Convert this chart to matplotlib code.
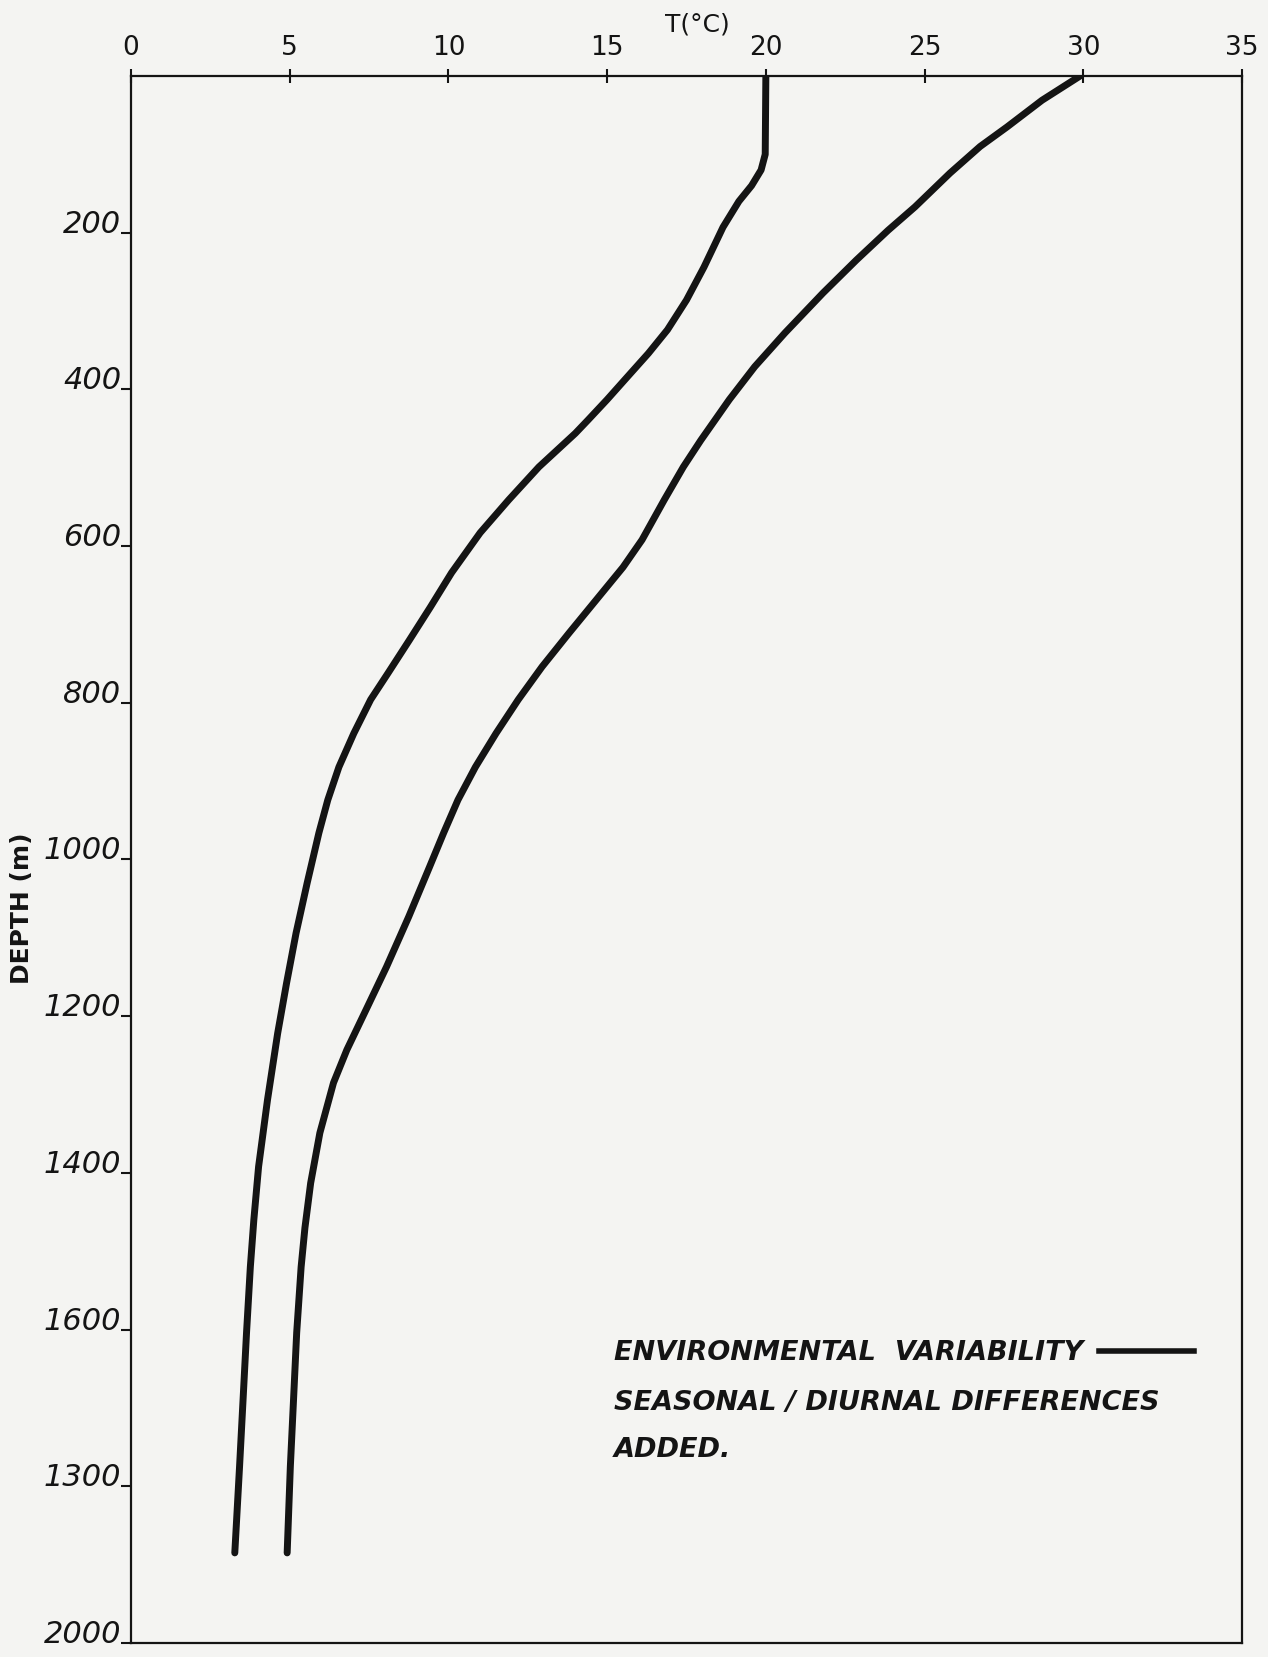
import matplotlib.pyplot as plt
from matplotlib.lines import Line2D

# temperature profiles, depth in metres, temperature in deg C
depth_cool = [0, 100, 120, 140, 160, 193, 244, 286, 324, 354, 388, 413, 439, 456, 499,
              541, 583, 634, 678, 720, 762, 796, 839, 882, 924, 966, 1030,
              1094, 1158, 1222, 1307, 1392, 1460, 1520, 1604, 1690, 1775, 1885]
temp_cool = [20.0, 19.98, 19.85, 19.55, 19.15, 18.65, 18.05, 17.5, 16.9, 16.3, 15.55,
             15.0, 14.4, 14.0, 12.85, 11.9, 11.0, 10.1, 9.43, 8.77, 8.1, 7.55, 7.02,
             6.55, 6.2, 5.92, 5.55, 5.2, 4.9, 4.62, 4.3, 4.02, 3.87, 3.76, 3.64, 3.53,
             3.42, 3.27]

depth_warm = [0, 31, 65, 90, 124, 167, 197, 235, 277, 328, 371, 413, 465, 499,
              541, 592, 627, 669, 711, 754, 796, 839, 882, 924, 966, 1010, 1073,
              1137, 1188, 1243, 1285, 1349, 1413, 1470, 1520, 1604, 1690, 1775, 1885]
temp_warm = [29.9, 28.7, 27.6, 26.75, 25.8, 24.7, 23.85, 22.85, 21.8, 20.6, 19.65, 18.85,
             17.95, 17.4, 16.8, 16.1, 15.5, 14.65, 13.8, 12.95, 12.2, 11.5, 10.85, 10.3,
             9.85, 9.4, 8.75, 8.05, 7.45, 6.8, 6.38, 5.95, 5.66, 5.48, 5.36, 5.22, 5.12,
             5.02, 4.92]

x_ticks = [0, 5, 10, 15, 20, 25, 30, 35]
y_ticks = [200, 400, 600, 800, 1000, 1200, 1400, 1600, 1800, 2000]
y_tick_labels = ['200', '400', '600', '800', '1000', '1200', '1400', '1600', '1300', '2000']

legend_lines = ['ENVIRONMENTAL  VARIABILITY',
                'SEASONAL / DIURNAL DIFFERENCES',
                'ADDED.']

ink = '#141414'
paper = '#f4f4f2'

fig = plt.figure(figsize=(12.68, 16.57), dpi=100, facecolor=paper)
ax = fig.add_axes([0.1033, 0.00845, 0.8762, 0.9457], facecolor=paper)

ax.plot(temp_cool, depth_cool, color=ink, lw=5, solid_capstyle='round',
        solid_joinstyle='round')
ax.plot(temp_warm, depth_warm, color=ink, lw=5, solid_capstyle='round',
        solid_joinstyle='round')

ax.set_xlim(0, 35)
ax.set_ylim(2000, 0)

for side in ['top', 'bottom', 'left', 'right']:
    ax.spines[side].set_color(ink)
    ax.spines[side].set_linewidth(1.6)

ax.xaxis.tick_top()
ax.set_xticks(x_ticks)
ax.set_xticklabels([str(v) for v in x_ticks])
ax.tick_params(axis='x', direction='inout', length=10, width=1.5, pad=6,
               labelsize=19, colors=ink)

ax.set_yticks(y_ticks)
ax.set_yticklabels(y_tick_labels)
ax.tick_params(axis='y', direction='out', length=7, width=1.5, pad=0,
               labelsize=22, colors=ink, right=False)
for lbl in ax.get_yticklabels():
    lbl.set_verticalalignment('baseline')
    lbl.set_style('italic')

fig.text(0.55, 0.985, 'T(°C)', fontsize=18, color=ink, ha='center', va='center')
fig.text(0.0175, 0.452, 'DEPTH (m)', fontsize=18, fontweight='bold', color=ink,
         rotation=90, ha='center', va='center')

# legend: first line carries the line sample, the rest sits underneath
handle = Line2D([], [], color=ink, lw=4)
ax.legend([handle], [legend_lines[0]], loc='center left', bbox_to_anchor=(0.4347, 0.185),
          frameon=False, markerfirst=False, handlelength=3.5, handletextpad=0.6,
          borderpad=0, borderaxespad=0,
          prop={'size': 19.5, 'weight': 'bold', 'style': 'italic'}, labelcolor=ink)
ax.text(0.4347, 0.153, legend_lines[1], transform=ax.transAxes, fontsize=19.5,
        fontweight='bold', style='italic', color=ink, va='center')
ax.text(0.4347, 0.123, legend_lines[2], transform=ax.transAxes, fontsize=19.5,
        fontweight='bold', style='italic', color=ink, va='center')

fig.savefig('out.png', dpi=100, facecolor=paper)
